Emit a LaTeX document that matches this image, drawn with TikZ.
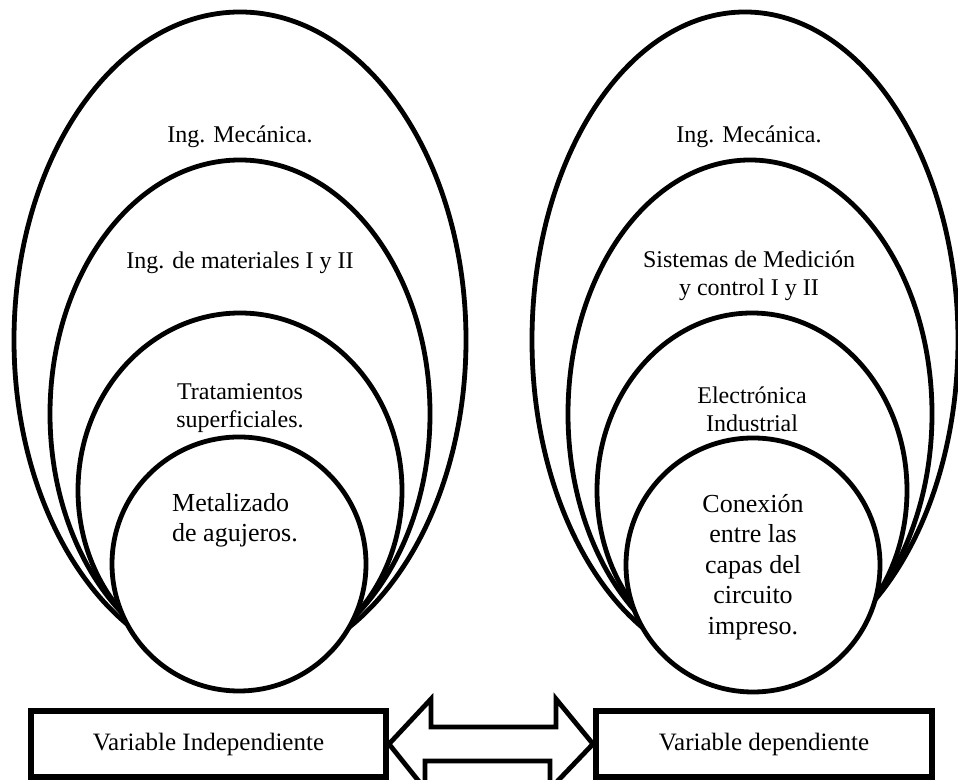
\documentclass[tikz,border=0pt]{standalone}
\usepackage{fontspec}
\setmainfont{Liberation Serif}
\tikzset{
    ring/.style={draw, line width=2.4pt, fill=white},
    lbl/.style={font=\fontsize{12}{14}\selectfont, align=center},
    biglbl/.style={font=\fontsize{13}{15.2}\selectfont},
    varbox/.style={draw, line width=3pt, fill=white, minimum height=33pt, font=\fontsize{12.5}{15}\selectfont},
    dblarrow/.style={draw, line width=2.4pt, fill=white, line join=miter}
}
\begin{document}
\begin{tikzpicture}[x=0.5pt, y=0.5pt]
        \useasboundingbox (0,0) rectangle (958,780);
        \clip (0,0) rectangle (958,780);
        % independent side
        \begin{scope}[shift={(240,0)}]
            \draw[ring] (0,440) ellipse [x radius=226, y radius=328];
            \draw[ring] (0,366) ellipse [x radius=190, y radius=254];
            \draw[ring] (0,289.5) ellipse [x radius=162, y radius=177.5];
            \draw[ring] (-1,216) circle [radius=127];
            \node[lbl] (mecL) at (0,643) {Ing. Mecánica.};
            \node[lbl] (mat) at (0,517) {Ing. de materiales I y II};
            \node[lbl] (trat) at (0,372) {Tratamientos\\superficiales.};
            \node[biglbl, align=left] (metal) at (-5,260) {Metalizado\\de agujeros.};
        \end{scope}
        % dependent side
        \begin{scope}[shift={(752,0)}]
            \draw[ring] (-7,440) ellipse [x radius=213, y radius=328];
            \draw[ring] (-2,366) ellipse [x radius=182, y radius=254];
            \draw[ring] (0,289.5) ellipse [x radius=155, y radius=177.5];
            \draw[ring] (1,215) circle [radius=127];
            \node[lbl] (mecR) at (-3,643) {Ing. Mecánica.};
            \node[lbl] (sist) at (-3,504) {Sistemas de Medición\\y control I y II};
            \node[lbl] (elec) at (0,371) {Electrónica\\Industrial};
            \node[biglbl, align=center] (conex) at (1,213) {Conexión\\entre las\\capas del\\circuito\\impreso.};
        \end{scope}
        % variables
        \node[varbox, minimum width=177.5pt] (vi) at (208.5,36) {Variable Independiente};
        \node[varbox, minimum width=168pt] (vd) at (764,36) {Variable dependiente};
        \draw[dblarrow] (vi.east) -- ++(42,45) -- ++(0,-28) -- ++(125,0) -- ++(0,28)
            -- (vd.west) -- ++(-43,-45) -- ++(0,28) -- ++(-125,0) -- ++(0,-28) -- cycle;
    \end{tikzpicture}
\end{document}
